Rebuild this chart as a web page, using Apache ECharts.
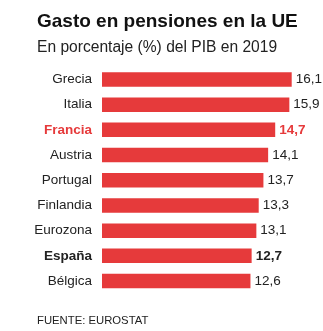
<!DOCTYPE html>
<html><head><meta charset="utf-8">
<script src="https://cdn.jsdelivr.net/npm/echarts@6/dist/echarts.min.js"></script>
<style>html,body{margin:0;padding:0;background:#fff}#c{width:323px;height:331px}</style>
</head><body><div id="c"></div>
<script>
const categories = ["Grecia","Italia","Francia","Austria","Portugal","Finlandia","Eurozona","España","Bélgica"];
const values = [16.1,15.9,14.7,14.1,13.7,13.3,13.1,12.7,12.6];
const highlightRed = ["Francia"];
const highlightBold = ["España"];
const titleText = "Gasto en pensiones en la UE";
const subtitleText = "En porcentaje (%) del PIB en 2019";
const sourceText = "FUENTE: EUROSTAT";

const RED = "#e63a3b";
const FONT = "Liberation Sans, Arial, sans-serif";
function styleFor(name){
  if (highlightRed.includes(name)) return 'r';
  if (highlightBold.includes(name)) return 'b';
  return 'n';
}
const chart = echarts.init(document.getElementById('c'), null, {renderer:'canvas'});
chart.setOption({
  animation:false,
  backgroundColor:'#fff',
  title:[
    {text:titleText,left:37,top:12,padding:0,textStyle:{fontFamily:FONT,fontSize:19,fontWeight:'bold',color:'#111'}},
    {text:subtitleText,left:37,top:40,padding:0,textStyle:{fontFamily:FONT,fontSize:15.6,fontWeight:'normal',color:'#222'}},
    {text:sourceText,left:37,top:315,padding:0,textStyle:{fontFamily:FONT,fontSize:11.3,fontWeight:'normal',color:'#222'}}
  ],
  grid:{left:102,right:31.3,top:66.9,bottom:331-293.6,containLabel:false},
  xAxis:{type:'value',min:0,max:16.1,show:false},
  yAxis:{type:'category',data:categories,inverse:true,
    axisLine:{show:false},axisTick:{show:false},
    axisLabel:{margin:10,fontFamily:FONT,fontSize:13.5,color:'#222',
      formatter:(v)=>'{'+styleFor(v)+'|'+v+'}',
      rich:{n:{fontFamily:FONT,fontSize:13.5,color:'#222'},
            r:{fontFamily:FONT,fontSize:13.5,color:RED,fontWeight:'bold'},
            b:{fontFamily:FONT,fontSize:13.5,color:'#222',fontWeight:'bold'}}}
  },
  series:[{type:'bar',barWidth:14.5,
    data:values.map((v,i)=>({value:v,name:categories[i]})),
    itemStyle:{color:RED},
    label:{show:true,position:'right',distance:4,
      formatter:(p)=>'{'+styleFor(p.name)+'|'+String(p.value).replace('.',',')+'}',
      rich:{n:{fontFamily:FONT,fontSize:13.5,color:'#222'},
            r:{fontFamily:FONT,fontSize:13.5,color:RED,fontWeight:'bold'},
            b:{fontFamily:FONT,fontSize:13.5,color:'#222',fontWeight:'bold'}}}
  }]
});
</script></body></html>
